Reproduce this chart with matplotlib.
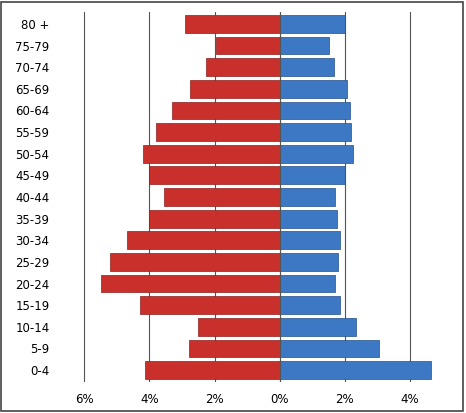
import matplotlib
matplotlib.use("Agg")
import matplotlib.pyplot as plt
from matplotlib.ticker import FuncFormatter

ages = ["0-4","5-9","10-14","15-19","20-24","25-29","30-34","35-39","40-44","45-49",
        "50-54","55-59","60-64","65-69","70-74","75-79","80 +"]
left_vals = [4.15,2.8,2.5,4.3,5.5,5.2,4.7,4.0,3.55,4.0,4.2,3.8,3.3,2.75,2.25,1.95,2.9]
right_vals = [4.65,3.05,2.35,1.85,1.7,1.8,1.85,1.75,1.7,2.0,2.25,2.2,2.15,2.05,1.65,1.5,2.0]

fig = plt.figure(figsize=(4.66,4.13), dpi=100)
ax = fig.add_axes([55/466, 1-382/413, 386/466, 370/413])
y = range(len(ages))
ax.barh(y, [-v for v in left_vals], height=0.82, color="#C9302C", edgecolor="#8e1f1c", linewidth=0.5, zorder=3)
ax.barh(y, right_vals, height=0.82, color="#3C78C3", edgecolor="#24508a", linewidth=0.5, zorder=3)
ax.set_xlim(-6.9, 4.95)
ax.set_ylim(-0.55, 16.55)
ax.set_yticks(list(y))
ax.set_yticklabels(ages, fontsize=8.5)
ax.set_xticks([-6,-4,-2,0,2,4])
ax.xaxis.set_major_formatter(FuncFormatter(lambda v,p: f"{abs(v):.0f}%"))
ax.tick_params(axis='x', labelsize=8.5, length=0, pad=8)
ax.tick_params(axis='y', length=0, pad=4)
ax.grid(axis='x', color="#555555", linewidth=0.8, zorder=0)
for s in ax.spines.values():
    s.set_visible(False)
ax.axvline(0, color="#555555", linewidth=0.8, zorder=4)
fig.patches.append(plt.Rectangle((0.003,0.006),0.99,0.99, transform=fig.transFigure,
                                 fill=False, edgecolor="#444444", linewidth=1.2))
fig.savefig("out.png", dpi=100)
